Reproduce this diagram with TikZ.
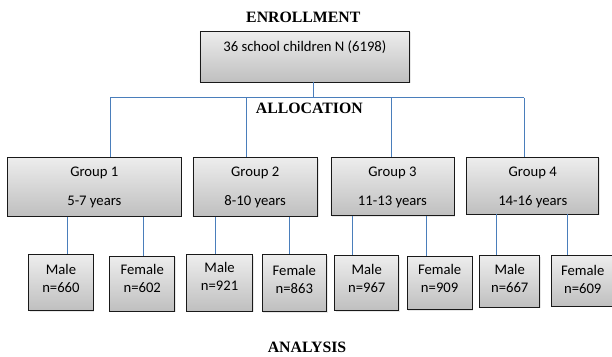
\documentclass[tikz,border=0pt]{standalone}
\usepackage{fontspec}
\setmainfont{Liberation Serif}
\newfontfamily\calfont{Carlito}
\usetikzlibrary{shadows}
\definecolor{conn}{RGB}{74,126,187}
\tikzset{
  box/.style={draw=black!90, line width=0.9pt, top color=black!7, bottom color=black!25,
    inner sep=0pt, anchor=north west, align=center,
    font=\calfont\fontsize{14.67}{18}\selectfont,
    drop shadow={shadow xshift=1.2pt, shadow yshift=-1.2pt, opacity=0.18}},
  head/.style={font=\bfseries\fontsize{15.8}{18}\selectfont, inner sep=0pt},
  conline/.style={draw=conn, line width=0.8pt}
}
\begin{document}
\begin{tikzpicture}[x=1pt,y=-1pt]
\useasboundingbox (0,0) rectangle (612,356);
% headings
\node[head] (enr) at (303.3,17.3) {ENROLLMENT};
\node[head] (all) at (309.3,108.3) {ALLOCATION};
\node[head] (ana) at (307,347) {ANALYSIS};
% top box
\node[box, minimum width=209.8pt, text height=20.7pt, text depth=30.1pt] (top) at (199.5,30.7) {36 school children N (6198)};
% group boxes (text height measured from the last baseline)
\node[box, minimum width=173.2pt, text height=48.8pt, text depth=10.2pt] (g1) at (7.3,156.7) {Group 1\\[11.3pt]5-7 years};
\node[box, minimum width=124.5pt, text height=48.5pt, text depth=10.2pt] (g2) at (192.5,157) {Group 2\\[11.3pt]8-10 years};
\node[box, minimum width=123pt, text height=48.8pt, text depth=9.8pt] (g3) at (330.5,156.7) {Group 3\\[11.3pt]11-13 years};
\node[box, minimum width=132pt, text height=48.8pt, text depth=8pt] (g4) at (466.3,156.7) {Group 4\\[11.3pt]14-16 years};
% lower boxes
\node[box, minimum width=64.4pt, text height=37.7pt, text depth=18pt] (m1) at (28.3,254.3) {Male\\n=660};
\node[box, minimum width=65pt, text height=36.3pt, text depth=18.7pt] (f1) at (109.3,255.7) {Female\\n=602};
\node[box, minimum width=66.3pt, text height=36.1pt, text depth=20.3pt] (m2) at (186,254.3) {Male\\n=921};
\node[box, minimum width=64.3pt, text height=38.4pt, text depth=18.3pt] (f2) at (261.7,254.3) {Female\\n=863};
\node[box, minimum width=64pt, text height=37pt, text depth=18pt] (m3) at (334.3,255) {Male\\n=967};
\node[box, minimum width=65pt, text height=36.3pt, text depth=17.3pt] (f3) at (406.7,255.7) {Female\\n=909};
\node[box, minimum width=60pt, text height=37pt, text depth=14.7pt] (m4) at (479.3,255) {Male\\n=667};
\node[box, minimum width=62pt, text height=37.7pt, text depth=13pt] (f4) at (551.3,255) {Female\\n=609};
% bus coordinates
\coordinate (bus) at (313.5,97.5);
\coordinate (t1) at (110,97.5);
\coordinate (t2) at (246.7,97.5);
\coordinate (t3) at (391.3,97.5);
\coordinate (t4) at (524.3,97.5);
\draw[conline] (top.south -| bus) -- (bus);
\draw[conline] (t1) -- (t4);
\draw[conline] (t1) -- (t1 |- g1.north);
\draw[conline] (t2) -- (t2 |- g2.north);
\draw[conline] (t3) -- (t3 |- g3.north);
\draw[conline] (t4) -- (t4 |- g4.north);
% lower connector x positions
\coordinate (a1) at (67.7,0);
\coordinate (b1) at (143.3,0);
\coordinate (a2) at (215,0);
\coordinate (b2) at (289.3,0);
\coordinate (a3) at (352.7,0);
\coordinate (b3) at (426,0);
\coordinate (a4) at (496.7,0);
\coordinate (b4) at (567.3,0);
\draw[conline] (a1 |- g1.south) -- (a1 |- m1.north);
\draw[conline] (b1 |- g1.south) -- (b1 |- f1.north);
\draw[conline] (a2 |- g2.south) -- (a2 |- m2.north);
\draw[conline] (b2 |- g2.south) -- (b2 |- f2.north);
\draw[conline] (a3 |- g3.south) -- (a3 |- m3.north);
\draw[conline] (b3 |- g3.south) -- (b3 |- f3.north);
\draw[conline] (a4 |- g4.south) -- (a4 |- m4.north);
\draw[conline] (b4 |- g4.south) -- (b4 |- f4.north);
\end{tikzpicture}
\end{document}
